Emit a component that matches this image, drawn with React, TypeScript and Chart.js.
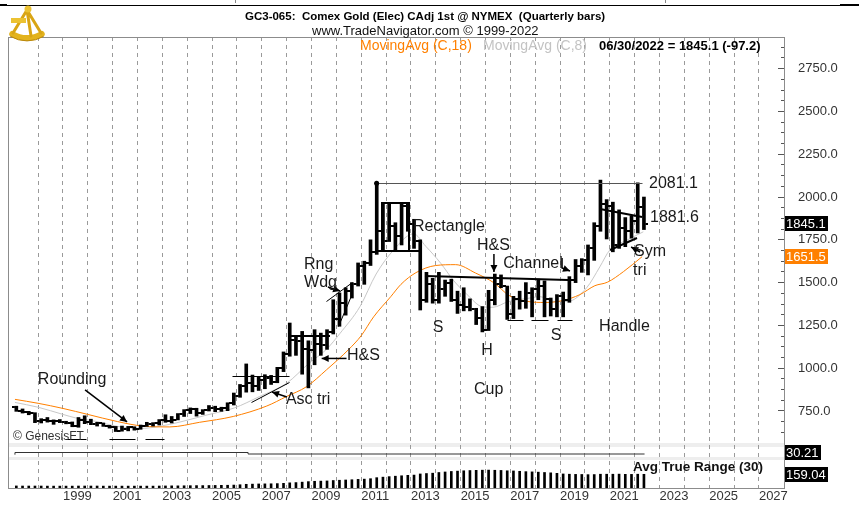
import React, { useEffect, useRef } from 'react';
import { Chart, registerables } from 'chart.js';

Chart.register(...registerables);

const FONT = '"Liberation Sans", Arial, Helvetica, sans-serif';

// ---------------- data (quarterly bars, Comex gold continuous adjusted) ----------------
const firstYear = 1997;

const opens = [
  772, 752, 742, 738, 690, 700, 694, 690, 685, 678, 662, 696, 684, 672, 678, 664,
  658, 636, 645, 656, 645, 664, 676, 680, 698, 690, 700, 732, 756, 764, 738, 754,
  770, 760, 766, 795, 838, 895, 915, 895, 930, 945, 920, 1000, 1085, 1165, 1160, 1110,
  1105, 1140, 1135, 1210, 1290, 1380, 1450, 1490, 1600, 1615, 1680, 1800, 1745, 1830, 1770, 1945,
  1840, 1745, 1400, 1490, 1400, 1460, 1500, 1400, 1370, 1360, 1345, 1295, 1225, 1400, 1490, 1480,
  1315, 1405, 1395, 1440, 1465, 1480, 1405, 1345, 1420, 1400, 1515, 1600, 1630, 1700, 1830, 1960,
  1945, 1720, 1820, 1800, 1860, 1942.3,
];
const highs = [
  778, 762, 748, 740, 705, 712, 698, 700, 690, 686, 712, 722, 702, 684, 680, 666,
  660, 662, 660, 658, 668, 684, 682, 700, 728, 718, 735, 758, 768, 766, 758, 782,
  778, 772, 798, 855, 905, 1025, 960, 950, 962, 958, 1005, 1095, 1264, 1190, 1215, 1160,
  1225, 1205, 1225, 1400, 1440, 1470, 1500, 1615, 1625, 1750, 2081.1, 1965, 1965, 1850, 1960, 1965,
  1870, 1750, 1560, 1525, 1560, 1515, 1520, 1450, 1470, 1405, 1350, 1360, 1455, 1550, 1545, 1480,
  1420, 1450, 1500, 1470, 1520, 1510, 1410, 1430, 1445, 1535, 1635, 1640, 1720, 1850, 2099, 1985,
  1970, 1925, 1880, 1890, 2083, 2000,
];
const lows = [
  748, 738, 728, 682, 680, 685, 672, 682, 675, 658, 655, 676, 670, 662, 660, 650,
  630, 632, 634, 638, 643, 660, 662, 668, 684, 680, 698, 718, 735, 720, 730, 750,
  746, 748, 752, 785, 830, 860, 862, 870, 880, 905, 915, 980, 1070, 1075, 965, 885,
  1020, 1075, 1110, 1200, 1245, 1310, 1410, 1480, 1490, 1600, 1665, 1690, 1740, 1690, 1720, 1800,
  1700, 1340, 1385, 1380, 1380, 1420, 1390, 1320, 1335, 1335, 1255, 1212, 1220, 1370, 1470, 1285,
  1290, 1345, 1350, 1300, 1400, 1300, 1305, 1300, 1300, 1385, 1500, 1560, 1545, 1630, 1800, 1755,
  1680, 1700, 1710, 1760, 1790, 1810,
];
const closes = [
  752, 742, 738, 690, 700, 694, 690, 685, 678, 662, 696, 684, 672, 678, 664, 658,
  636, 645, 656, 645, 664, 676, 680, 698, 690, 700, 732, 756, 764, 738, 754, 770,
  760, 766, 795, 838, 895, 915, 895, 930, 945, 920, 1000, 1085, 1165, 1160, 1110, 1105,
  1140, 1135, 1210, 1290, 1380, 1450, 1490, 1600, 1615, 1680, 1800, 1745, 1830, 1770, 1945, 1840,
  1745, 1400, 1490, 1400, 1460, 1500, 1400, 1370, 1360, 1345, 1295, 1225, 1400, 1490, 1480, 1315,
  1405, 1395, 1440, 1465, 1480, 1405, 1345, 1420, 1400, 1515, 1600, 1630, 1700, 1830, 1960, 1945,
  1720, 1820, 1800, 1860, 1942.3, 1845.1,
];
const atr30 = [
  24, 23, 23, 23, 23, 22, 22, 22, 22, 22, 23, 23, 23, 23, 22, 22,
  22, 22, 22, 22, 22, 22, 22, 23, 24, 25, 25, 26, 27, 28, 28, 29,
  30, 31, 32, 34, 38, 43, 45, 47, 48, 49, 51, 54, 60, 63, 68, 74,
  78, 80, 82, 87, 90, 93, 96, 100, 103, 108, 120, 126, 132, 137, 142, 147,
  150, 163, 168, 172, 180, 186, 192, 196, 200, 203, 205, 207, 208, 206, 204, 200,
  198, 194, 190, 187, 184, 180, 176, 170, 163, 160, 158, 157, 155, 156, 160, 160,
  160, 161, 159, 158, 160, 159.04,
];
const quarterLabels = opens.map((_, i) => `${firstYear + Math.floor(i / 4)} Q${(i % 4) + 1}`);

// Moving averages (date in years, value)
const ma18Dates = [1997.07, 1998.0, 1999.0, 2000.0, 2001.2, 2002.2, 2003.3, 2004.5, 2005.85, 2007.2, 2008.0, 2008.8, 2009.6, 2010.5, 2011.0, 2011.5, 2012.2, 2012.6, 2013.2, 2014.0, 2014.8, 2015.6, 2016.35, 2016.95, 2017.7, 2018.4, 2019.1, 2019.8, 2020.4, 2020.9, 2021.55, 2022.3];
const ma18Values = [818, 795, 765, 730, 688, 662, 657, 684, 718, 779, 835, 892, 990, 1110, 1190, 1300, 1420, 1490, 1558, 1600, 1605, 1556, 1498, 1425, 1390, 1384, 1395, 1430, 1482, 1502, 1564, 1651.5];
const ma8Dates = [1997.07, 1998.0, 1999.0, 1999.5, 2000.3, 2001.2, 2002.1, 2002.8, 2003.75, 2004.8, 2005.9, 2006.9, 2008.0, 2008.9, 2009.6, 2010.15, 2010.95, 2011.6, 2012.3, 2013.1, 2013.6, 2014.2, 2014.7, 2015.25, 2015.9, 2016.3, 2016.9, 2017.7, 2018.2, 2018.75, 2019.3, 2020.07, 2020.6, 2021.0, 2021.7, 2022.35];
const ma8Values = [800, 772, 730, 710, 690, 660, 648, 658, 687, 727, 768, 834, 912, 1029, 1110, 1204, 1360, 1550, 1690, 1785, 1712, 1613, 1515, 1432, 1358, 1356, 1388, 1408, 1418, 1390, 1390, 1470, 1592, 1690, 1749, 1797];

// small middle study panel
const midDates = [1997.07, 2006.45, 2015.26, 2022.4];
const midValues = [30.04, 30.585, 30.21, 30.21];

// axes
const yearGrid = [1998, 1999, 2000, 2001, 2002, 2003, 2004, 2005, 2006, 2007, 2008, 2009, 2010, 2011, 2012, 2013, 2014, 2015, 2016, 2017, 2018, 2019, 2020, 2021, 2022, 2023, 2024, 2025, 2026, 2027];
const yearLabels = [1999, 2001, 2003, 2005, 2007, 2009, 2011, 2013, 2015, 2017, 2019, 2021, 2023, 2025, 2027];
const priceLabels = [750, 1000, 1250, 1500, 1750, 2000, 2250, 2500, 2750];

// ---------------- pattern annotations (in date / price units) ----------------
const patternTexts = [
  { text: '2081.1', t: 2022.58, p: 2076 },
  { text: '1881.6', t: 2022.62, p: 1877 },
  { text: 'Sym', t: 2021.98, p: 1679 },
  { text: 'tri', t: 2021.94, p: 1568 },
  { text: 'Handle', t: 2020.57, p: 1241 },
  { text: 'Rectangle', t: 2013.08, p: 1825 },
  { text: 'H&S', t: 2015.66, p: 1714 },
  { text: 'Channel', t: 2016.71, p: 1609 },
  { text: 'S', t: 2014.09, p: 1235, align: 'center' },
  { text: 'H', t: 2016.06, p: 1100, align: 'center' },
  { text: 'S', t: 2018.84, p: 1188, align: 'center' },
  { text: 'Cup', t: 2015.54, p: 873 },
  { text: 'Rng', t: 2008.7, p: 1603 },
  { text: 'Wdg', t: 2008.7, p: 1498 },
  { text: 'H&S', t: 2010.43, p: 1071 },
  { text: 'Asc tri', t: 2007.97, p: 814 },
  { text: 'Rounding', t: 1997.99, p: 931 },
];
const patternLines = [
  { w: 1, color: '#555', pts: [[2011.62, 2081.1], [2022.3, 2081.1]] },
  { w: 2, pts: [[2011.84, 1685], [2011.84, 1965], [2012.92, 1965], [2012.92, 1685]] },
  { w: 2, pts: [[2011.56, 1685], [2013.37, 1685]] },
  { w: 2, pts: [[2013.57, 1539], [2019.32, 1515]] },
  { w: 1, pts: [[2016.87, 1276], [2017.51, 1276]] },
  { w: 1, pts: [[2017.87, 1276], [2018.52, 1276]] },
  { w: 1, pts: [[2018.88, 1276], [2019.52, 1276]] },
  { w: 1, pts: [[2005.84, 949], [2008.13, 949]] },
  { w: 1, pts: [[2006.6, 797], [2008.13, 914]] },
  { w: 2, pts: [[2008.09, 1188], [2009.74, 1188]] },
  { w: 1, pts: [[2009.62, 1387], [2010.63, 1498]] },
  { w: 1, pts: [[2010.07, 1241], [2010.67, 1439]] },
  { w: 2, pts: [[2020.61, 1930], [2022.3, 1881.6]] },
  { w: 2, pts: [[2021.01, 1690], [2022.1, 1760]] },
  { w: 1, pts: [[1999.12, 586], [1999.93, 586]] },
  { w: 1, pts: [[2000.89, 586], [2001.9, 586]] },
  { w: 1, pts: [[2002.34, 586], [2003.1, 586]] },
];
const patternArrows = [
  [[1999.89, 873], [2001.58, 686]],
  [[2008.01, 832], [2007.41, 861]],
  [[2010.41, 1057], [2009.41, 1057]],
  [[2009.66, 1474], [2010.15, 1451]],
  [[2016.34, 1667], [2016.34, 1562]],
  [[2019.08, 1644], [2019.08, 1585], [2019.4, 1568]],
  [[2022.22, 1679], [2021.86, 1708]],
];

function quarterTime(label: string) {
  const [y, q] = label.split(' Q');
  return Number(y) + (Number(q) - 0.5) / 4;
}

function makeTick(side: 'left' | 'right') {
  const c = document.createElement('canvas');
  c.width = 9;
  c.height = 2;
  const g = c.getContext('2d') as CanvasRenderingContext2D;
  g.fillStyle = '#000';
  if (side === 'left') g.fillRect(0, 0, 3, 2);
  else g.fillRect(6, 0, 3, 2);
  return c;
}

function snap(v: number, w: number) {
  return w % 2 === 1 ? Math.floor(v) + 0.5 : Math.round(v);
}

function drawLogo(ctx: CanvasRenderingContext2D) {
  ctx.save();
  ctx.lineCap = 'round';
  ctx.strokeStyle = '#e3b31c';
  ctx.lineWidth = 6;
  ctx.beginPath();
  ctx.arc(27, 9, 29, Math.PI * 0.33, Math.PI * 0.67);
  ctx.stroke();
  ctx.strokeStyle = '#b8860b';
  ctx.lineWidth = 1;
  ctx.beginPath();
  ctx.arc(27, 9, 32, Math.PI * 0.33, Math.PI * 0.67);
  ctx.stroke();
  ctx.strokeStyle = '#d9a514';
  ctx.lineWidth = 3;
  ctx.beginPath();
  ctx.moveTo(27, 10); ctx.lineTo(41, 33);
  ctx.moveTo(27, 10); ctx.lineTo(13, 33);
  ctx.moveTo(27, 10); ctx.lineTo(31, 36);
  ctx.stroke();
  ctx.fillStyle = '#ecc232';
  ctx.fillRect(11, 18, 15, 5);
  ctx.beginPath();
  ctx.arc(28, 9, 3.5, 0, Math.PI * 2);
  ctx.fill();
  ctx.restore();
}

const decorPlugin = {
  id: 'decor',
  beforeDraw(chart: any) {
    const { ctx, chartArea: a, scales } = chart;
    ctx.save();
    ctx.fillStyle = '#ffffff';
    ctx.fillRect(0, 0, chart.width, chart.height);
    ctx.fillStyle = '#eeeeee';
    for (const id of ['gap1', 'gap2']) {
      const s = scales[id];
      ctx.fillRect(a.left, s.top, a.right - a.left, s.bottom - s.top);
    }
    ctx.restore();
  },
  afterDatasetsDraw(chart: any) {
    const { ctx, scales } = chart;
    const px = (t: number) => scales.x.getPixelForValue(t);
    const py = (p: number) => scales.y.getPixelForValue(p);
    ctx.save();
    for (const ln of patternLines) {
      ctx.strokeStyle = (ln as any).color || '#000';
      ctx.lineWidth = ln.w;
      ctx.beginPath();
      ln.pts.forEach(([t, p], i) => {
        const x = snap(px(t), ln.w);
        const y = snap(py(p), ln.w);
        if (i === 0) ctx.moveTo(x, y);
        else ctx.lineTo(x, y);
      });
      ctx.stroke();
    }
    // dot at the 2011 high
    ctx.fillStyle = '#000';
    ctx.beginPath();
    ctx.arc(px(2011.62), py(2081.1), 2.5, 0, Math.PI * 2);
    ctx.fill();
    // arrows
    for (const ar of patternArrows) {
      const pts = ar.map(([t, p]) => [px(t), py(p)]);
      ctx.strokeStyle = '#000';
      ctx.lineWidth = 1.5;
      ctx.beginPath();
      pts.forEach(([x, y], i) => (i === 0 ? ctx.moveTo(x, y) : ctx.lineTo(x, y)));
      ctx.stroke();
      const [x1, y1] = pts[pts.length - 2];
      const [x2, y2] = pts[pts.length - 1];
      const ang = Math.atan2(y2 - y1, x2 - x1);
      const L = 7;
      const W = 3.5;
      ctx.beginPath();
      ctx.moveTo(x2, y2);
      ctx.lineTo(x2 - L * Math.cos(ang) + W * Math.sin(ang), y2 - L * Math.sin(ang) - W * Math.cos(ang));
      ctx.lineTo(x2 - L * Math.cos(ang) - W * Math.sin(ang), y2 - L * Math.sin(ang) + W * Math.cos(ang));
      ctx.closePath();
      ctx.fill();
    }
    ctx.font = `16px ${FONT}`;
    ctx.fillStyle = '#1a1a1a';
    ctx.textBaseline = 'middle';
    for (const tx of patternTexts) {
      ctx.textAlign = ((tx as any).align || 'left') as CanvasTextAlign;
      ctx.fillText(tx.text, px(tx.t), py(tx.p));
    }
    ctx.restore();
  },
  afterDraw(chart: any) {
    const { ctx, chartArea: a, scales } = chart;
    ctx.save();
    // plot frame
    ctx.strokeStyle = '#8c8c8c';
    ctx.lineWidth = 1;
    ctx.strokeRect(a.left + 0.5, a.top + 0.5, a.right - a.left, a.bottom - a.top);

    // price axis tick marks (inside the plot)
    const ys = scales.y;
    ctx.strokeStyle = '#555';
    ctx.beginPath();
    for (let v = 625; v <= ys.max; v += 62.5) {
      const y = Math.floor(ys.getPixelForValue(v)) + 0.5;
      const len = v % 250 === 0 ? 6 : 3;
      ctx.moveTo(a.right - len, y);
      ctx.lineTo(a.right, y);
    }
    ctx.stroke();

    // value boxes
    const box = (text: string, yc: number, bg: string) => {
      ctx.font = `13px ${FONT}`;
      const w = Math.ceil(ctx.measureText(text).width) + 3;
      const top = Math.round(yc - 7.5);
      ctx.fillStyle = bg;
      ctx.fillRect(a.right + 1, top, w, 15);
      ctx.fillStyle = '#fff';
      ctx.textAlign = 'left';
      ctx.textBaseline = 'middle';
      ctx.fillText(text, a.right + 2, top + 8);
    };
    const lastClose = closes[closes.length - 1];
    const prevClose = closes[closes.length - 2];
    box(lastClose.toFixed(1), ys.getPixelForValue(lastClose), '#000');
    box(ma18Values[ma18Values.length - 1].toFixed(1), ys.getPixelForValue(ma18Values[ma18Values.length - 1]), '#ff8000');
    box(midValues[midValues.length - 1].toFixed(2), (scales.mid.top + scales.mid.bottom) / 2, '#000');
    box(atr30[atr30.length - 1].toFixed(2), scales.atr.getPixelForValue(atr30[atr30.length - 1]), '#000');

    // panel caption
    ctx.fillStyle = '#111';
    ctx.font = `bold 13.5px ${FONT}`;
    ctx.textAlign = 'left';
    ctx.textBaseline = 'middle';
    ctx.fillText('Avg True Range (30)', 633, 467);

    // copyright watermark
    ctx.font = `12px ${FONT}`;
    ctx.fillStyle = '#333';
    ctx.fillText('© GenesisFT', a.left + 5, 437);

    // header
    ctx.textBaseline = 'alphabetic';
    ctx.fillStyle = '#000';
    ctx.font = `bold 11.5px ${FONT}`;
    ctx.fillText('GC3-065:  Comex Gold (Elec) CAdj 1st @ NYMEX  (Quarterly bars)', 245, 19.5);
    ctx.font = `13px ${FONT}`;
    ctx.fillStyle = '#111';
    ctx.fillText('www.TradeNavigator.com © 1999-2022', 312, 35);
    ctx.font = `14px ${FONT}`;
    ctx.fillStyle = '#ff8000';
    ctx.fillText('MovingAvg (C,18)', 360, 49.5);
    ctx.fillStyle = '#c3c3c3';
    ctx.fillText('MovingAvg (C,8)', 483, 49.5);
    ctx.font = `bold 13px ${FONT}`;
    ctx.fillStyle = '#000';
    ctx.fillText(`06/30/2022 = ${lastClose.toFixed(1)} (${(lastClose - prevClose).toFixed(1)})`, 599, 49.5);

    // window edge line and logo
    ctx.fillStyle = '#000';
    ctx.fillRect(0, 5, chart.width, 1);
    ctx.fillRect(0, 4, 7, 2);
    ctx.fillRect(840, 4, 19, 2);
    ctx.fillStyle = '#888';
    ctx.fillRect(235, 0, 1, 3);
    ctx.fillRect(665, 0, 1, 3);
    drawLogo(ctx);
    ctx.restore();
  },
};

const fixWidth = (s: any) => {
  s.width = 75;
};

const hiddenPane = (weight: number, min: number, max: number) => ({
  type: 'linear',
  position: 'right',
  stack: 'panes',
  stackWeight: weight,
  min,
  max,
  grid: { display: false },
  border: { display: false },
  ticks: { display: false },
  afterFit: fixWidth,
});

export default function App() {
  const ref = useRef<HTMLCanvasElement | null>(null);

  useEffect(() => {
    if (!ref.current) return;
    const openImg = makeTick('left');
    const closeImg = makeTick('right');
    const qx = quarterLabels.map(quarterTime);

    const chart = new Chart(ref.current, {
      type: 'bar',
      data: {
        datasets: [
          {
            type: 'bar',
            label: 'High-Low',
            data: qx.map((x, i) => ({ x, y: [lows[i], highs[i]] })),
            backgroundColor: '#000',
            barThickness: 3,
            grouped: false,
            yAxisID: 'y',
            order: 1,
          } as any,
          {
            type: 'scatter',
            label: 'Open',
            data: qx.map((x, i) => ({ x, y: opens[i] })),
            pointStyle: openImg,
            pointRadius: 3,
            yAxisID: 'y',
            order: 0,
          } as any,
          {
            type: 'scatter',
            label: 'Close',
            data: qx.map((x, i) => ({ x, y: closes[i] })),
            pointStyle: closeImg,
            pointRadius: 3,
            yAxisID: 'y',
            order: 0,
          } as any,
          {
            type: 'line',
            label: 'MovingAvg (C,18)',
            data: ma18Dates.map((x, i) => ({ x, y: ma18Values[i] })),
            borderColor: '#ff8000',
            borderWidth: 1,
            pointRadius: 0,
            cubicInterpolationMode: 'monotone',
            yAxisID: 'y',
            order: 2,
          } as any,
          {
            type: 'line',
            label: 'MovingAvg (C,8)',
            data: ma8Dates.map((x, i) => ({ x, y: ma8Values[i] })),
            borderColor: '#c8c8c8',
            borderWidth: 1,
            pointRadius: 0,
            cubicInterpolationMode: 'monotone',
            yAxisID: 'y',
            order: 3,
          } as any,
          {
            type: 'line',
            label: 'Study',
            data: midDates.map((x, i) => ({ x, y: midValues[i] })),
            borderColor: '#333',
            borderWidth: 1,
            pointRadius: 0,
            stepped: 'after',
            yAxisID: 'mid',
            order: 4,
          } as any,
          {
            type: 'bar',
            label: 'Avg True Range (30)',
            data: qx.map((x, i) => ({ x, y: atr30[i] })),
            backgroundColor: '#000',
            barThickness: 2,
            grouped: false,
            yAxisID: 'atr',
            order: 5,
          } as any,
        ],
      },
      options: {
        responsive: false,
        animation: false,
        events: [],
        layout: { padding: { left: 8, top: 37, right: 0, bottom: 0 } },
        plugins: {
          legend: { display: false },
          tooltip: { enabled: false },
          title: { display: false },
        },
        scales: {
          x: {
            type: 'linear',
            position: 'bottom',
            min: 1996.79,
            max: 2028.01,
            offset: false,
            grid: { display: true, offset: false, color: '#9a9a9a', lineWidth: 1, drawTicks: false },
            border: { display: false, dash: [4, 4] },
            ticks: {
              autoSkip: false,
              maxRotation: 0,
              minRotation: 0,
              align: 'start',
              padding: 1,
              color: '#333',
              font: { family: FONT, size: 13 },
              callback: (v: any) => (yearLabels.includes(Number(v)) ? String(v) : ''),
            },
            afterBuildTicks: (s: any) => {
              s.ticks = yearGrid.map((v) => ({ value: v }));
            },
            afterFit: (s: any) => {
              s.height = 20;
            },
          },
          y: {
            type: 'linear',
            position: 'right',
            stack: 'panes',
            stackWeight: 406,
            min: 563,
            max: 2935,
            grid: { display: false },
            border: { display: false },
            ticks: {
              padding: 6,
              color: '#333',
              font: { family: FONT, size: 13 },
              callback: (v: any) => Number(v).toFixed(1),
            },
            afterBuildTicks: (s: any) => {
              s.ticks = priceLabels.map((v) => ({ value: v }));
            },
            afterFit: fixWidth,
          },
          gap1: hiddenPane(4, 0, 1),
          mid: hiddenPane(10, 29.46, 31.96),
          gap2: hiddenPane(3, 0, 1),
          atr: hiddenPane(28, 0, 325),
        } as any,
      },
      plugins: [decorPlugin],
    } as any);

    return () => chart.destroy();
  }, []);

  return (
    <div style={{ position: 'fixed', left: 0, top: 0, width: 859, height: 508, background: '#fff' }}>
      <canvas ref={ref} width={859} height={508} style={{ display: 'block' }} />
    </div>
  );
}
